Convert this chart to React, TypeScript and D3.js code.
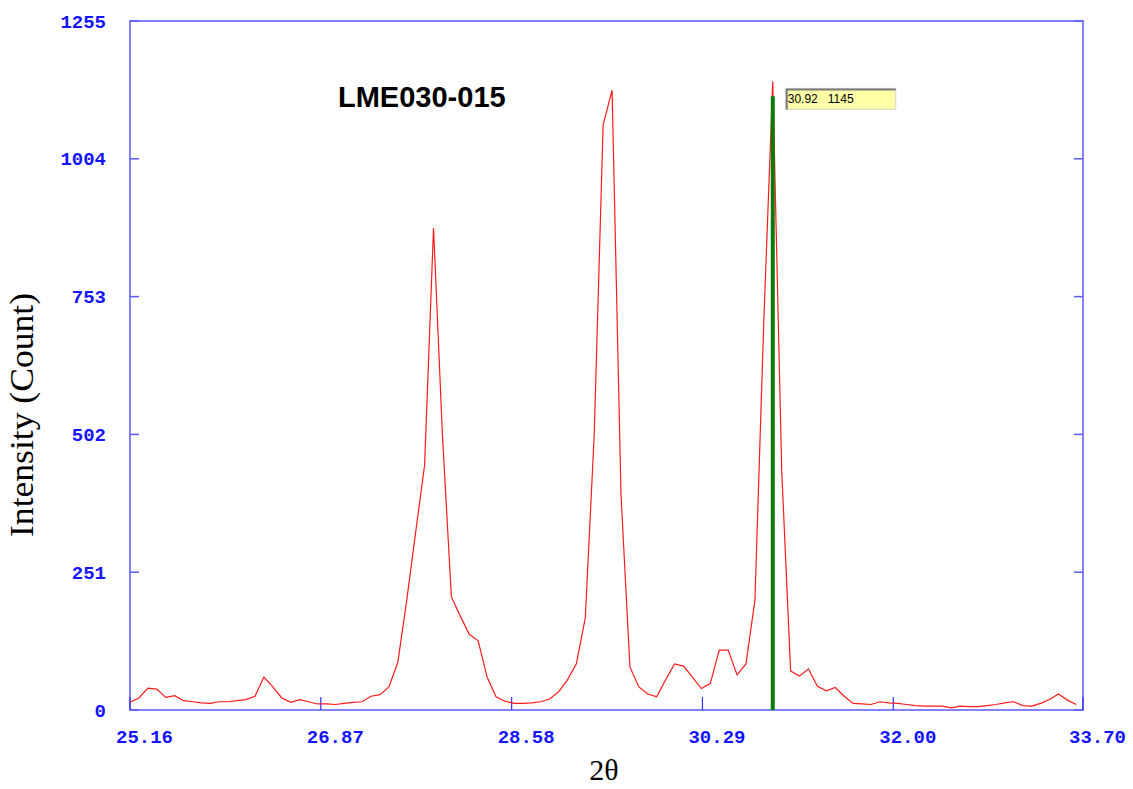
import React, { useEffect, useRef } from "react";
import * as d3 from "d3";

// scan angles (2θ) of the XRD pattern
const twoTheta = [
  25.16, 25.24, 25.32, 25.4, 25.48, 25.56, 25.64, 25.72, 25.8, 25.88,
  25.96, 26.04, 26.12, 26.2, 26.28, 26.36, 26.44, 26.52, 26.6, 26.68,
  26.76, 26.84, 26.92, 27.0, 27.08, 27.16, 27.24, 27.32, 27.4, 27.48,
  27.56, 27.64, 27.72, 27.8, 27.88, 27.96, 28.04, 28.12, 28.2, 28.28,
  28.36, 28.44, 28.52, 28.6, 28.68, 28.76, 28.84, 28.92, 29.0, 29.08,
  29.16, 29.24, 29.32, 29.4, 29.48, 29.56, 29.64, 29.72, 29.8, 29.88,
  29.96, 30.04, 30.12, 30.2, 30.28, 30.36, 30.44, 30.52, 30.6, 30.68,
  30.76, 30.84, 30.92, 31.0, 31.08, 31.16, 31.24, 31.32, 31.4, 31.48,
  31.56, 31.64, 31.72, 31.8, 31.88, 31.96, 32.04, 32.12, 32.2, 32.28,
  32.36, 32.44, 32.52, 32.6, 32.68, 32.76, 32.84, 32.92, 33.0, 33.08,
  33.16, 33.24, 33.32, 33.4, 33.48, 33.56, 33.64,
];

// counts at each angle
const counts = [
  14, 22, 40, 38, 23, 26, 17, 15, 13, 12,
  15, 15, 17, 19, 25, 60, 42, 22, 14, 19,
  15, 11, 11, 10, 12, 14, 15, 25, 28, 42,
  87, 200, 324, 446, 878, 500, 206, 171, 138, 126,
  60, 24, 16, 12, 12, 13, 15, 20, 33, 55,
  84, 168, 501, 1066, 1129, 392, 78, 42, 29, 24,
  55, 84, 80, 60, 39, 48, 109, 109, 64, 84,
  200, 710, 1145, 437, 71, 62, 75, 43, 35, 41,
  25, 12, 11, 10, 15, 13, 12, 10, 8, 7,
  7, 7, 4, 7, 6, 6, 8, 10, 13, 15,
  8, 7, 12, 19, 29, 18, 10,
];

const xTicks = [25.16, 26.87, 28.58, 30.29, 32.0, 33.7];
const yTicks = [0, 251, 502, 753, 1004, 1255];

const sampleName = "LME030-015";
const cursorAngle = 30.92;
const cursorCount = 1145;

const W = 1133,
  H = 789;
var margin = { top: 21, right: 50, bottom: 79, left: 130 };

const App = () => {
  const ref = useRef<SVGSVGElement>(null);

  useEffect(() => {
    const svg = d3.select(ref.current);
    svg.selectAll("*").remove();

    const x = d3
      .scaleLinear()
      .domain([25.16, 33.7])
      .range([margin.left, W - margin.right]);
    const y = d3
      .scaleLinear()
      .domain([0, 1255])
      .range([H - margin.bottom, margin.top]);

    const frameColor = "#5a5aff";
    const labelColor = "#1414ff";

    // frame
    svg
      .append("rect")
      .attr("x", x(25.16))
      .attr("y", y(1255))
      .attr("width", x(33.7) - x(25.16))
      .attr("height", y(0) - y(1255))
      .attr("fill", "none")
      .attr("stroke", frameColor)
      .attr("stroke-width", 1.5);

    // y ticks on both sides, pointing inwards
    yTicks.forEach((t) => {
      svg
        .append("line")
        .attr("x1", x(25.16))
        .attr("x2", x(25.16) + 9)
        .attr("y1", y(t))
        .attr("y2", y(t))
        .attr("stroke", frameColor)
        .attr("stroke-width", 1.5);
      svg
        .append("line")
        .attr("x1", x(33.7) - 9)
        .attr("x2", x(33.7))
        .attr("y1", y(t))
        .attr("y2", y(t))
        .attr("stroke", frameColor)
        .attr("stroke-width", 1.5);
      svg
        .append("text")
        .attr("x", x(25.16) - 24)
        .attr("y", y(t))
        .attr("dy", "0.35em")
        .attr("text-anchor", "end")
        .attr("font-family", "'Liberation Mono', 'Courier New', monospace")
        .attr("font-weight", "bold")
        .attr("font-size", 19)
        .attr("fill", labelColor)
        .text(t);
    });

    // x ticks
    xTicks.forEach((t) => {
      svg
        .append("line")
        .attr("x1", x(t))
        .attr("x2", x(t))
        .attr("y1", y(0))
        .attr("y2", y(0) - 13)
        .attr("stroke", "#3030ff")
        .attr("stroke-width", 1.2);
      svg
        .append("text")
        .attr("x", x(t) - 14)
        .attr("y", y(0) + 33)
        .attr("font-family", "'Liberation Mono', 'Courier New', monospace")
        .attr("font-weight", "bold")
        .attr("font-size", 19)
        .attr("fill", labelColor)
        .text(t.toFixed(2));
    });

    // pattern
    const line = d3
      .line<number>()
      .x((d, i) => x(twoTheta[i]))
      .y((d) => y(d));
    svg
      .append("path")
      .datum(counts)
      .attr("d", line)
      .attr("fill", "none")
      .attr("stroke", "#ff1a1a")
      .attr("stroke-width", 1.2);

    // cursor on the strongest peak
    svg
      .append("line")
      .attr("x1", x(cursorAngle))
      .attr("x2", x(cursorAngle))
      .attr("y1", y(0))
      .attr("y2", y(1118))
      .attr("stroke", "#0b7a0b")
      .attr("stroke-width", 4);

    // readout box
    const bx = x(cursorAngle) + 13,
      by = y(cursorCount) + 7;
    svg
      .append("rect")
      .attr("x", bx)
      .attr("y", by)
      .attr("width", 110)
      .attr("height", 21)
      .attr("fill", "#ffffa8")
      .attr("stroke", "#d4d4d4")
      .attr("stroke-width", 1);
    svg
      .append("path")
      .attr("d", `M${bx + 1},${by + 21} V${by + 1} H${bx + 110}`)
      .attr("fill", "none")
      .attr("stroke", "#7a7a7a")
      .attr("stroke-width", 2);
    svg
      .append("text")
      .attr("x", bx + 2)
      .attr("y", by + 15)
      .attr("font-family", "'Liberation Sans', Arial, sans-serif")
      .attr("font-size", 12)
      .attr("fill", "#000")
      .text(cursorAngle.toFixed(2));
    svg
      .append("text")
      .attr("x", bx + 42)
      .attr("y", by + 15)
      .attr("font-family", "'Liberation Sans', Arial, sans-serif")
      .attr("font-size", 12)
      .attr("fill", "#000")
      .text(cursorCount);

    // sample name
    svg
      .append("text")
      .attr("x", 338)
      .attr("y", 107)
      .attr("font-family", "'Liberation Sans', Arial, sans-serif")
      .attr("font-weight", "bold")
      .attr("font-size", 29)
      .attr("fill", "#000")
      .text(sampleName);

    // axis titles
    svg
      .append("text")
      .attr("transform", `translate(33,${415}) rotate(-90)`)
      .attr("text-anchor", "middle")
      .attr("font-family", "'Liberation Serif', 'Times New Roman', serif")
      .attr("font-size", 33)
      .attr("textLength", 244)
      .attr("lengthAdjust", "spacingAndGlyphs")
      .attr("fill", "#000")
      .text("Intensity (Count)");
    svg
      .append("text")
      .attr("x", 604)
      .attr("y", 780)
      .attr("text-anchor", "middle")
      .attr("font-family", "'Liberation Serif', 'Times New Roman', serif")
      .attr("font-size", 30)
      .attr("fill", "#000")
      .text("2θ");
  }, []);

  return (
    <svg
      ref={ref}
      width={W}
      height={H}
      style={{ position: "absolute", left: 0, top: 0, background: "#fff" }}
    ></svg>
  );
};

export default App;
